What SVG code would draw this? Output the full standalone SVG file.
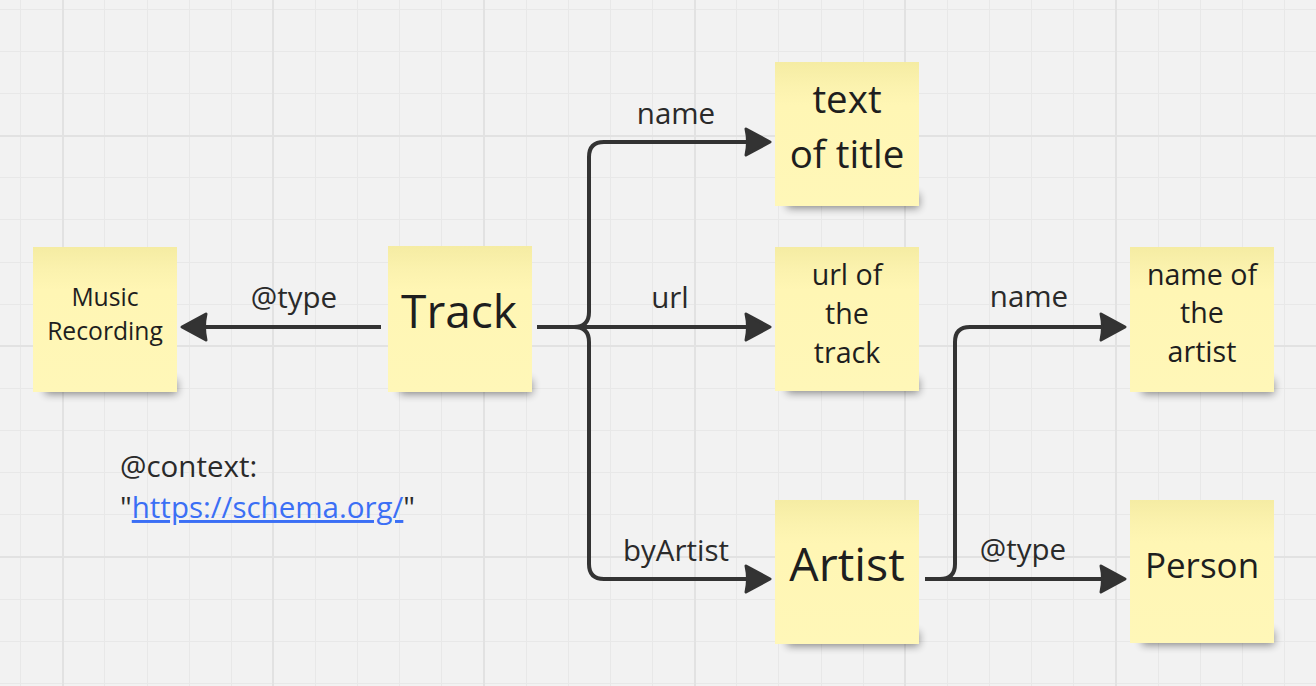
<svg xmlns="http://www.w3.org/2000/svg" width="1316" height="686" viewBox="0 0 1316 686">
<style>
.minor{stroke:#e8e8e8;stroke-width:1;fill:none}
.major{stroke:#e2e2e2;stroke-width:2;fill:none}
.note{fill:url(#noteGrad)}
.shadow{fill:#000;opacity:0.45;filter:url(#blur)}
.conn{fill:none;stroke:#333333;stroke-width:4;stroke-linecap:butt;stroke-linejoin:round}
.lbl{font-family:"Open Sans","Liberation Sans",sans-serif;font-size:29.5px;fill:#2a2a2a;text-anchor:middle}
.nt{font-family:"Open Sans","Liberation Sans",sans-serif;fill:#1e1e1e;text-anchor:middle}
.ctx{font-family:"Open Sans","Liberation Sans",sans-serif;font-size:29.5px;fill:#2a2a2a}
.link{fill:#3b6ff5;text-decoration:underline}
</style>
<defs>
<linearGradient id="noteGrad" x1="0" y1="0" x2="0" y2="1">
<stop offset="0" stop-color="#f5eca3"/>
<stop offset="0.16" stop-color="#fbf2ae"/>
<stop offset="0.3" stop-color="#fff6b4"/>
<stop offset="1" stop-color="#fff7b8"/>
</linearGradient>
<filter id="blur" x="-20%" y="-100%" width="140%" height="300%">
<feGaussianBlur stdDeviation="4"/>
</filter>
<marker id="arr" viewBox="-16 -18 34 36" markerWidth="34" markerHeight="36" refX="0" refY="0" orient="auto" markerUnits="userSpaceOnUse" overflow="visible">
<path d="M-12,-13 L12,0 L-12,13 Q-9,0 -12,-13 Z" fill="#333333" stroke="#333333" stroke-width="3" stroke-linejoin="round"/>
</marker>
</defs>
<rect x="0" y="0" width="1316" height="686" fill="#f2f2f2"/>
<g id="grid">
<path class="minor" d="M20.5,0V686M104.5,0V686M147.5,0V686M189.5,0V686M231.5,0V686M315.5,0V686M357.5,0V686M399.5,0V686M441.5,0V686M526.5,0V686M568.5,0V686M610.5,0V686M652.5,0V686M736.5,0V686M778.5,0V686M821.5,0V686M863.5,0V686M947.5,0V686M989.5,0V686M1031.5,0V686M1073.5,0V686M1158.5,0V686M1200.5,0V686M1242.5,0V686M1284.5,0V686"/>
<path class="minor" d="M0,9.5H1316M0,51.5H1316M0,93.5H1316M0,177.5H1316M0,219.5H1316M0,262.5H1316M0,304.5H1316M0,388.5H1316M0,430.5H1316M0,472.5H1316M0,514.5H1316M0,599.5H1316M0,641.5H1316M0,683.5H1316"/>
<path class="major" d="M63,0V686M273,0V686M484,0V686M695,0V686M905,0V686M1116,0V686M0,136H1316M0,346H1316M0,557H1316"/>
</g>
<g id="connectors">
<path class="conn" d="M381,327 H194" marker-end="url(#arr)"/>
<path class="conn" d="M537,327 H574 Q589,327 589,312 V157 Q589,142 604,142 H758" marker-end="url(#arr)"/>
<path class="conn" d="M537,327 H758" marker-end="url(#arr)"/>
<path class="conn" d="M537,327 H574 Q589,327 589,342 V564 Q589,579 604,579 H758" marker-end="url(#arr)"/>
<path class="conn" d="M925,579 H940 Q955,579 955,564 V342 Q955,327 970,327 H1113" marker-end="url(#arr)"/>
<path class="conn" d="M925,579 H1113" marker-end="url(#arr)"/>
<text class="lbl" x="294" y="308">@type</text>
<text class="lbl" x="676" y="124">name</text>
<text class="lbl" x="670" y="308">url</text>
<text class="lbl" x="676" y="561">byArtist</text>
<text class="lbl" x="1029" y="307">name</text>
<text class="lbl" x="1023" y="560">@type</text>
</g>
<g id="music-recording">
<rect class="shadow" x="45" y="380" width="132" height="14"/>
<rect class="note" x="33" y="247" width="144" height="145"/>
<text class="nt" font-size="24.7" x="105" y="306">Music</text>
<text class="nt" font-size="24.7" x="105" y="340">Recording</text>
</g>
<g id="track">
<rect class="shadow" x="400" y="380" width="132" height="14"/>
<rect class="note" x="388" y="246" width="144" height="146"/>
<text class="nt" font-size="46" x="459" y="328">Track</text>
</g>
<g id="text-of-title">
<rect class="shadow" x="787" y="194" width="132" height="14"/>
<rect class="note" x="775" y="62" width="144" height="144"/>
<text class="nt" font-size="38.5" x="847" y="113">text</text>
<text class="nt" font-size="38.5" x="847" y="168">of title</text>
</g>
<g id="url-of-the-track">
<rect class="shadow" x="787" y="379" width="132" height="14"/>
<rect class="note" x="775" y="247" width="144" height="144"/>
<text class="nt" font-size="28.6" x="847" y="285">url of</text>
<text class="nt" font-size="28.6" x="847" y="324">the</text>
<text class="nt" font-size="28.6" x="847" y="363">track</text>
</g>
<g id="name-of-the-artist">
<rect class="shadow" x="1142" y="380" width="132" height="14"/>
<rect class="note" x="1130" y="247" width="144" height="145"/>
<text class="nt" font-size="28.6" x="1202" y="285">name of</text>
<text class="nt" font-size="28.6" x="1202" y="323">the</text>
<text class="nt" font-size="28.6" x="1202" y="362">artist</text>
</g>
<g id="artist">
<rect class="shadow" x="787" y="632" width="132" height="14"/>
<rect class="note" x="775" y="500" width="144" height="144"/>
<text class="nt" font-size="46.5" x="847" y="581">Artist</text>
</g>
<g id="person">
<rect class="shadow" x="1142" y="631" width="132" height="14"/>
<rect class="note" x="1130" y="500" width="144" height="143"/>
<text class="nt" font-size="35" x="1202" y="578">Person</text>
</g>
<g id="context">
<text class="ctx" x="120" y="477">@context:</text>
<text class="ctx" x="120" y="518">"<tspan class="link">https://schema.org/</tspan>"</text>
</g>
</svg>
